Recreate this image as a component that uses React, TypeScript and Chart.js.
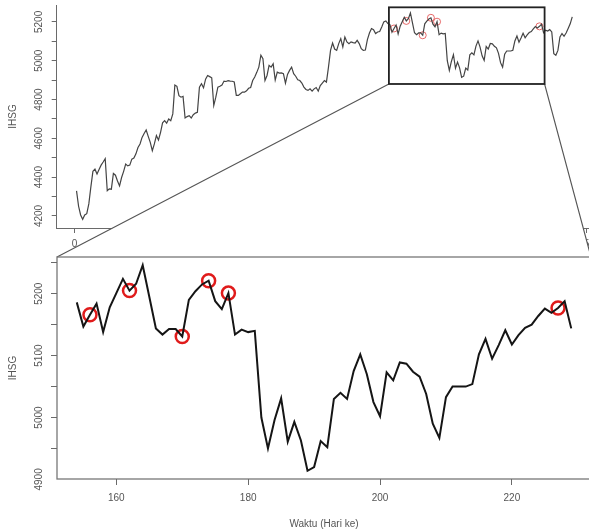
import React, { useEffect, useRef } from 'react';
import { Chart, registerables } from 'chart.js';

Chart.register(...registerables);

// ---- data (IHSG daily closes, day index from 1) ----
const FIRST_DAY = 1;
const IHSG_EARLY: number[] = [
  4329, 4250, 4205, 4183, 4205, 4212, 4262, 4350, 4430, 4441,
  4416, 4440, 4462, 4478, 4495, 4330, 4340, 4338, 4419, 4410,
  4380, 4355, 4398, 4430, 4467, 4458, 4462, 4493, 4498, 4520,
  4553, 4571, 4605, 4625, 4643, 4610, 4579, 4536, 4571, 4614,
  4591, 4630, 4680, 4691, 4678, 4700, 4691, 4726, 4875, 4868,
  4820, 4812, 4816, 4705, 4712, 4717, 4705, 4722, 4730, 4734,
  4864, 4881, 4860, 4905, 4924, 4918, 4912, 4769, 4812, 4864,
  4868, 4875, 4895, 4893, 4897, 4895, 4894, 4890, 4821, 4821,
  4830, 4838, 4838, 4845, 4858, 4862, 4898, 4916, 4940, 4967,
  5028, 5010, 4898, 4924, 4976, 4967, 4984, 4900, 4941, 4936,
  4937, 4933, 4884, 4929, 4950, 4967, 4933, 4920, 4902, 4898,
  4885, 4864, 4852, 4847, 4855, 4843, 4855, 4862, 4843, 4872,
  4885, 4898, 4890, 4967, 5053, 5091, 5060, 5053, 5088, 5114,
  5071, 5122, 5097, 5088, 5097, 5093, 5091, 5105, 5088, 5062,
  5053, 5055, 5109, 5143, 5166, 5160, 5140, 5148, 5150, 5174,
  5200, 5205, 5191,
];
const ZOOM_FIRST_DAY = 154;
const IHSG_ZOOM: number[] = [
  5186, 5147, 5166, 5184, 5138, 5178, 5201, 5224, 5205, 5216,
  5246, 5195, 5144, 5134, 5143, 5143, 5131, 5190, 5204, 5215,
  5221, 5188, 5175, 5201, 5134, 5142, 5138, 5140, 5000, 4950,
  4996, 5031, 4961, 4993, 4963, 4914, 4920, 4962, 4952, 5030,
  5040, 5030, 5075, 5102, 5070, 5025, 5002, 5073, 5060, 5089,
  5087, 5074, 5066, 5038, 4990, 4967, 5033, 5050, 5050, 5050,
  5054, 5102, 5127, 5095, 5117, 5141, 5118, 5133, 5145, 5150,
  5164, 5176, 5169, 5177, 5188, 5144,
];
const IHSG_LATE: number[] = [
  5157, 5153, 5160, 5148, 5036, 5028, 5053, 5122, 5140, 5126,
  5143, 5166, 5190, 5226,
];
const MARKED_DAYS: number[] = [156, 162, 170, 174, 177, 227];
const TOP_Y_LABELS: number[] = [4200, 4400, 4600, 4800, 5000, 5200];
const BOTTOM_Y_LABELS: number[] = [4900, 5000, 5100, 5200];
const ZOOM_BOX_X: number[] = [153.5, 229.5];
const ZOOM_BOX_Y: number[] = [4880, 5275];
const X_TITLE = 'Waktu (Hari ke)';
const Y_TITLE = 'IHSG';

const IHSG_ALL = [...IHSG_EARLY, ...IHSG_ZOOM, ...IHSG_LATE];
const allPoints = IHSG_ALL.map((y, i) => ({ x: FIRST_DAY + i, y }));
const zoomPoints = IHSG_ZOOM.map((y, i) => ({ x: ZOOM_FIRST_DAY + i, y }));
const markedPoints = MARKED_DAYS.map((d) => ({ x: d, y: IHSG_ALL[d - FIRST_DAY] }));

const FONT = "'Liberation Sans', Arial, sans-serif";
const AXIS = '#6a6a6a';
const TEXT = '#555555';

function rotatedYLabels(values: number[], offset: number) {
  return {
    id: 'rotatedYLabels',
    afterDraw(chart: any) {
      const s = chart.scales.y;
      const ctx = chart.ctx;
      ctx.save();
      ctx.fillStyle = TEXT;
      ctx.font = `10px ${FONT}`;
      ctx.textAlign = 'center';
      ctx.textBaseline = 'middle';
      for (const v of values) {
        const y = s.getPixelForValue(v);
        ctx.save();
        ctx.translate(s.right - offset, y);
        ctx.rotate(-Math.PI / 2);
        ctx.fillText(String(v), 0, 0);
        ctx.restore();
      }
      ctx.restore();
    },
  };
}

export default function App() {
  const topRef = useRef<HTMLCanvasElement | null>(null);
  const botRef = useRef<HTMLCanvasElement | null>(null);

  useEffect(() => {
    Chart.defaults.font.family = FONT;

    const topChart = new Chart(topRef.current as HTMLCanvasElement, {
      type: 'line',
      data: {
        datasets: [
          {
            data: allPoints,
            borderColor: '#444444',
            borderWidth: 1.2,
            pointRadius: 0,
            tension: 0,
          },
          {
            data: markedPoints,
            showLine: false,
            pointRadius: 3.5,
            pointBorderWidth: 1,
            pointBorderColor: 'rgba(225,70,70,0.8)',
            pointBackgroundColor: 'rgba(0,0,0,0)',
          },
        ],
      },
      options: {
        responsive: false,
        animation: false,
        events: [],
        devicePixelRatio: 1,
        layout: { padding: { top: 5, left: 0, right: 7.5, bottom: 273 } },
        plugins: { legend: { display: false }, tooltip: { enabled: false } },
        scales: {
          x: {
            type: 'linear',
            min: -8.68,
            max: 252.68,
            afterFit: (s: any) => { s.height = 30; },
            grid: { drawOnChartArea: false, drawTicks: true, tickLength: 5, color: AXIS },
            border: { display: true, color: AXIS, width: 1 },
            ticks: {
              stepSize: 50, includeBounds: false, color: TEXT,
              font: { size: 10, family: FONT }, padding: 5, maxRotation: 0, autoSkip: false,
            },
          },
          y: {
            type: 'linear',
            min: 4138,
            max: 5287,
            afterFit: (s: any) => { s.width = 56.7; },
            grid: { drawOnChartArea: false, drawTicks: true, tickLength: 5, color: AXIS },
            border: { display: true, color: AXIS, width: 1 },
            ticks: { stepSize: 100, includeBounds: false, display: false },
            title: {
              display: true, text: Y_TITLE, color: TEXT,
              font: { size: 10, family: FONT }, padding: { top: 7, bottom: 0 },
            },
          },
        },
      } as any,
      plugins: [rotatedYLabels(TOP_Y_LABELS, 17.5)],
    });

    const zoomDecor = {
      id: 'zoomDecor',
      beforeDraw(chart: any) {
        const ctx = chart.ctx;
        const tx = topChart.scales.x;
        const ty = topChart.scales.y;
        const bl = tx.getPixelForValue(ZOOM_BOX_X[0]);
        const br = tx.getPixelForValue(ZOOM_BOX_X[1]);
        const bt = ty.getPixelForValue(ZOOM_BOX_Y[1]);
        const bb = ty.getPixelForValue(ZOOM_BOX_Y[0]);
        const a = chart.chartArea;
        ctx.save();
        // white cover under the magnifier
        ctx.fillStyle = '#ffffff';
        ctx.beginPath();
        ctx.moveTo(bl, bb);
        ctx.lineTo(br, bb);
        ctx.lineTo(a.right, a.top);
        ctx.lineTo(a.right, chart.height);
        ctx.lineTo(0, chart.height);
        ctx.lineTo(0, a.top);
        ctx.lineTo(a.left, a.top);
        ctx.closePath();
        ctx.fill();
        // connector lines
        ctx.strokeStyle = '#555555';
        ctx.lineWidth = 1.1;
        ctx.beginPath();
        ctx.moveTo(bl, bb);
        ctx.lineTo(a.left, a.top);
        ctx.moveTo(br, bb);
        ctx.lineTo(a.right, a.top);
        ctx.stroke();
        // zoom rectangle on the overview
        ctx.strokeStyle = '#222222';
        ctx.lineWidth = 1.8;
        ctx.strokeRect(bl, bt, br - bl, bb - bt);
        // frame of the detail panel
        ctx.strokeStyle = '#777777';
        ctx.lineWidth = 1.3;
        ctx.strokeRect(a.left, a.top, a.right - a.left, a.bottom - a.top);
        ctx.restore();
      },
    };

    const botChart = new Chart(botRef.current as HTMLCanvasElement, {
      type: 'line',
      data: {
        datasets: [
          {
            data: zoomPoints,
            borderColor: '#151515',
            borderWidth: 2,
            pointRadius: 0,
            tension: 0,
          },
          {
            data: markedPoints,
            showLine: false,
            pointRadius: 6.5,
            pointBorderWidth: 2.5,
            pointBorderColor: '#e01b1b',
            pointBackgroundColor: 'rgba(0,0,0,0)',
          },
        ],
      },
      options: {
        responsive: false,
        animation: false,
        events: [],
        devicePixelRatio: 1,
        layout: { padding: { top: 257, left: 0, right: 6, bottom: 0 } },
        plugins: { legend: { display: false }, tooltip: { enabled: false } },
        scales: {
          x: {
            type: 'linear',
            min: 151,
            max: 232,
            afterFit: (s: any) => { s.height = 52; },
            grid: { drawOnChartArea: false, drawTicks: true, tickLength: 6, color: AXIS },
            border: { display: false },
            ticks: {
              stepSize: 20, includeBounds: false, color: TEXT,
              font: { size: 10, family: FONT }, padding: 7, maxRotation: 0, autoSkip: false,
            },
            title: {
              display: true, text: X_TITLE, color: TEXT,
              font: { size: 10, family: FONT }, padding: { top: 0, bottom: 1 },
            },
          },
          y: {
            type: 'linear',
            min: 4900.7,
            max: 5259.3,
            afterFit: (s: any) => { s.width = 57; },
            grid: { drawOnChartArea: false, drawTicks: true, tickLength: 6, color: AXIS },
            border: { display: false },
            ticks: { stepSize: 50, includeBounds: false, display: false },
            title: {
              display: true, text: Y_TITLE, color: TEXT,
              font: { size: 10, family: FONT }, padding: { top: 7, bottom: 0 },
            },
          },
        },
      } as any,
      plugins: [zoomDecor, rotatedYLabels(BOTTOM_Y_LABELS, 18)],
    });

    return () => {
      botChart.destroy();
      topChart.destroy();
    };
  }, []);

  const canvasStyle: React.CSSProperties = {
    position: 'absolute', left: 0, top: 0, width: 600, height: 531, display: 'block',
  };

  return (
    <div
      style={{
        position: 'absolute', left: 0, top: 0, width: 589, height: 531,
        overflow: 'hidden', background: '#ffffff',
      }}
    >
      <canvas ref={topRef} width={600} height={531} style={canvasStyle} />
      <canvas ref={botRef} width={600} height={531} style={canvasStyle} />
    </div>
  );
}
